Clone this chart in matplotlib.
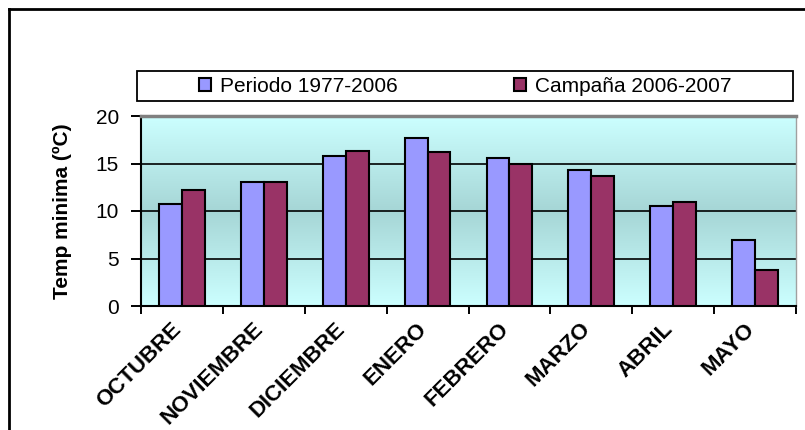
import numpy as np
import matplotlib
matplotlib.use("Agg")
import matplotlib.pyplot as plt
import matplotlib.transforms as mtransforms
from matplotlib.colors import LinearSegmentedColormap
from matplotlib.patches import Rectangle
from matplotlib.lines import Line2D

plt.rcParams['font.family'] = ['Liberation Sans', 'DejaVu Sans']

# Datos
meses = ['OCTUBRE', 'NOVIEMBRE', 'DICIEMBRE', 'ENERO', 'FEBRERO', 'MARZO', 'ABRIL', 'MAYO']
periodo = [10.7, 13.1, 15.8, 17.7, 15.6, 14.3, 10.5, 6.9]
campana = [12.2, 13.1, 16.3, 16.2, 15.0, 13.7, 11.0, 3.8]
series = ['Periodo 1977-2006', 'Campaña 2006-2007']
yticks = [0, 5, 10, 15, 20]

W, H = 805, 430
fig = plt.figure(figsize=(W / 100, H / 100), dpi=100)
ax = fig.add_axes([141 / W, 1 - 306 / H, (796 - 141) / W, (306 - 116) / H])

# Fondo degradado del area de trazado
cmap = LinearSegmentedColormap.from_list('fondo', ['#CCFFFF', '#A6D6D6', '#CCFFFF'])
grad = np.linspace(0, 1, 256).reshape(-1, 1)
ax.imshow(grad, cmap=cmap, aspect='auto', extent=(-0.5, 7.5, 0, 20), zorder=0)

x = np.arange(len(meses))
w = 0.28
ax.bar(x - w / 2, periodo, w, color='#9999FF', edgecolor='black', linewidth=1.5, zorder=3, label=series[0])
ax.bar(x + w / 2, campana, w, color='#993366', edgecolor='black', linewidth=1.5, zorder=3, label=series[1])

ax.set_xlim(-0.5, 7.5)
ax.set_ylim(0, 20)
ax.set_yticks(yticks)
for v in yticks[1:-1]:
    ax.axhline(v, color='black', linewidth=1.2, zorder=2)

ax.set_xticks(np.arange(-0.5, 8, 1))
ax.set_xticklabels([])
ax.set_xticks(x, minor=True)
ax.set_xticklabels(meses, minor=True, rotation=45, ha='right', va='top',
                   rotation_mode='anchor', fontsize=16, fontweight='bold')
ax.tick_params(axis='x', which='minor', length=0, pad=9)
ax.tick_params(axis='x', which='major', length=6, width=1.4, direction='out')
ax.tick_params(axis='y', length=7, width=1.4, direction='out', labelsize=15, pad=9)

# desplazar etiquetas del eje x hacia la izquierda
shift = mtransforms.ScaledTranslation(-11 / 100, 0, fig.dpi_scale_trans)
for lbl in ax.get_xticklabels(minor=True):
    lbl.set_transform(lbl.get_transform() + shift)

ax.spines['left'].set_linewidth(1.5)
ax.spines['bottom'].set_linewidth(1.5)
ax.spines['top'].set_color('#808080')
ax.spines['top'].set_linewidth(2.5)
ax.spines['right'].set_color('#A0A0A0')
ax.spines['right'].set_linewidth(1)

ax.set_ylabel('Temp minima (ºC)', fontsize=15, fontweight='bold', labelpad=17)

# Leyenda
fig.add_artist(Rectangle((137 / W, 1 - 101.5 / H), (793 - 137) / W, 30.5 / H,
                         transform=fig.transFigure, facecolor='white',
                         edgecolor='black', linewidth=1.3))
fig.legend(loc='center', bbox_to_anchor=(465 / W, 1 - 86 / H), ncol=2, frameon=False,
           fontsize=15, handlelength=0.6, handleheight=0.6, handletextpad=0.4,
           columnspacing=5.6)

# Marco exterior
fig.add_artist(Line2D([9 / W, 1], [1 - 9 / H, 1 - 9 / H], color='black', linewidth=2,
                      transform=fig.transFigure))
fig.add_artist(Line2D([9 / W, 9 / W], [0, 1 - 9 / H], color='black', linewidth=2,
                      transform=fig.transFigure))

fig.savefig('out.png', dpi=100)
